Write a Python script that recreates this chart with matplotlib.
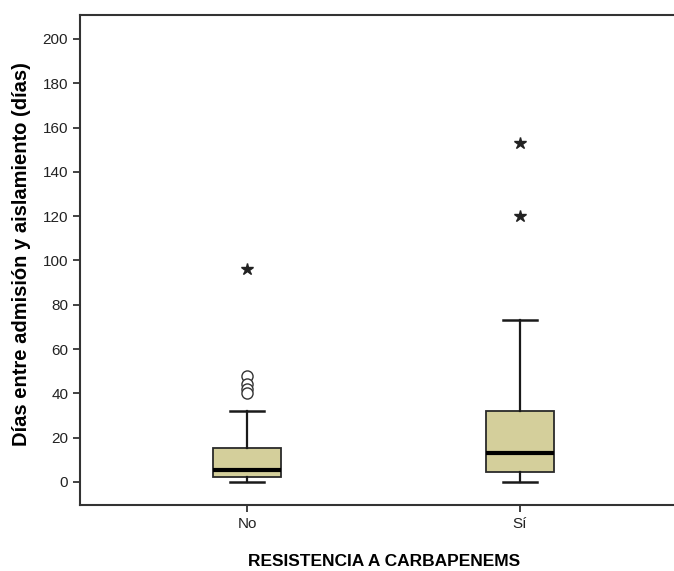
import numpy as np
from matplotlib import pyplot as plt

# data
groups = ['No', 'Sí']
q1 = [2.4, 4.4]
med = [5.4, 13.0]
q3 = [15.2, 32.2]
whislo = [0, 0]
whishi = [32, 73]
outliers = [[48, 44, 42, 40], []]          # circles
extremes = [[96], [120, 153]]              # stars

plt.rcParams['font.family'] = ['Liberation Sans', 'DejaVu Sans']

fig = plt.figure(figsize=(6.74, 5.71), dpi=100)
ax = fig.add_axes([80/674, 66/571, 594/674, 490/571])

stats = []
for i, g in enumerate(groups):
    stats.append(dict(label=g, q1=q1[i], med=med[i], q3=q3[i],
                      whislo=whislo[i], whishi=whishi[i], fliers=outliers[i]))

pos = [1, 2]
ax.bxp(stats, positions=pos, widths=0.25, patch_artist=True, showfliers=True,
       boxprops=dict(facecolor='#d4cf9b', edgecolor='#2a2a2a', linewidth=1.3),
       medianprops=dict(color='black', linewidth=3),
       whiskerprops=dict(color='#1a1a1a', linewidth=1.6),
       capprops=dict(color='#1a1a1a', linewidth=1.8),
       capwidths=0.125,
       flierprops=dict(marker='o', markerfacecolor='white', markeredgecolor='#333333',
                       markersize=8, markeredgewidth=1.0))

for p, ex in zip(pos, extremes):
    ax.plot([p]*len(ex), ex, linestyle='none', marker='*', color='#222222', markersize=9)

ax.set_xlim(0.388, 2.564)
ax.set_ylim(-10.4, 210.8)
ax.set_yticks(np.arange(0, 201, 20))
ax.set_xticks(pos)
ax.set_xticklabels(groups)
ax.tick_params(axis='both', direction='out', length=5, width=1.3, color='#333333',
               labelsize=11, labelcolor='#222222')
for s in ['left', 'bottom', 'top']:
    ax.spines[s].set_linewidth(1.5)
    ax.spines[s].set_color('#333333')
ax.spines['right'].set_visible(False)

ax.set_ylabel('Días entre admisión y aislamiento (días)', fontsize=14.5, fontweight='bold')
ax.yaxis.set_label_coords(-0.082, 0.512)
ax.set_xlabel('RESISTENCIA A CARBAPENEMS', fontsize=12.5, fontweight='bold')
ax.xaxis.set_label_coords(0.512, -0.1)

fig.savefig('out.png', dpi=100)
